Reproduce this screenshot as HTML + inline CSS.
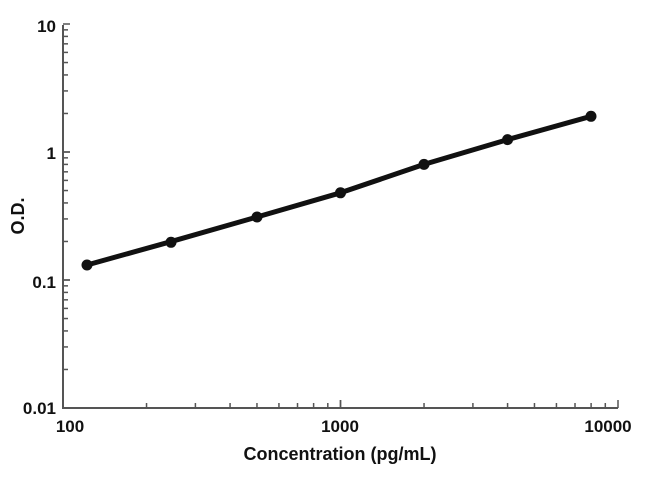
<!DOCTYPE html>
<html><head><style>
html,body{margin:0;padding:0;background:#fff;}
svg{display:block;font-family:"Liberation Sans",Arial,sans-serif;font-weight:bold;}
</style></head><body>
<svg id="s" width="650" height="480" viewBox="0 0 650 480" xmlns="http://www.w3.org/2000/svg">
<g stroke="#555" stroke-width="2" fill="none">
<line x1="63" y1="25" x2="63" y2="409"/>
<line x1="62" y1="408" x2="618" y2="408"/>
</g>
<g id="ticks" stroke="#555" stroke-width="1.5"></g>
<g font-size="17" fill="#111" text-anchor="end">
<text x="56" y="32">10</text>
<text x="56" y="159">1</text>
<text x="56" y="288">0.1</text>
<text x="56" y="414">0.01</text>
</g>
<g font-size="17" fill="#111" text-anchor="middle">
<text x="70" y="432">100</text>
<text x="340" y="432">1000</text>
<text x="608" y="432">10000</text>
<text x="340" y="460" font-size="18">Concentration (pg/mL)</text>
</g>
<text font-size="18" fill="#111" text-anchor="middle" transform="translate(24,216) rotate(-90)">O.D.</text>
<polyline fill="none" stroke="#111" stroke-width="5" stroke-linejoin="round" stroke-linecap="round"
points="87,265 168.5,242.3 257,217 340.5,192.8 424,164.4 507.6,139.6 591,116.3"/>
<g fill="#111">
<circle cx="87" cy="265" r="5.5"/>
<circle cx="171" cy="242.3" r="5.5"/>
<circle cx="257" cy="217" r="5.5"/>
<circle cx="340.5" cy="192.8" r="5.5"/>
<circle cx="424" cy="164.4" r="5.5"/>
<circle cx="507.6" cy="139.6" r="5.5"/>
<circle cx="591" cy="116.3" r="5.5"/>
</g>
</svg>
<script>
var g=document.getElementById('ticks'),h='';
for(var d=0;d<3;d++)for(var k=1;k<=10;k++){
 var y=408-128*(d+Math.log10(k));var L=(k==1||k==10)?7:5;
 h+='<line x1="63" x2="'+(63+L)+'" y1="'+y+'" y2="'+y+'"/>';}
for(var d=0;d<2;d++)for(var k=1;k<=10;k++){
 var x=63+277.5*(d+Math.log10(k));var L=(k==1||k==10)?8:5;
 h+='<line y1="408" y2="'+(408-L)+'" x1="'+x+'" x2="'+x+'"/>';}
g.innerHTML=h;
</script>
</body></html>
